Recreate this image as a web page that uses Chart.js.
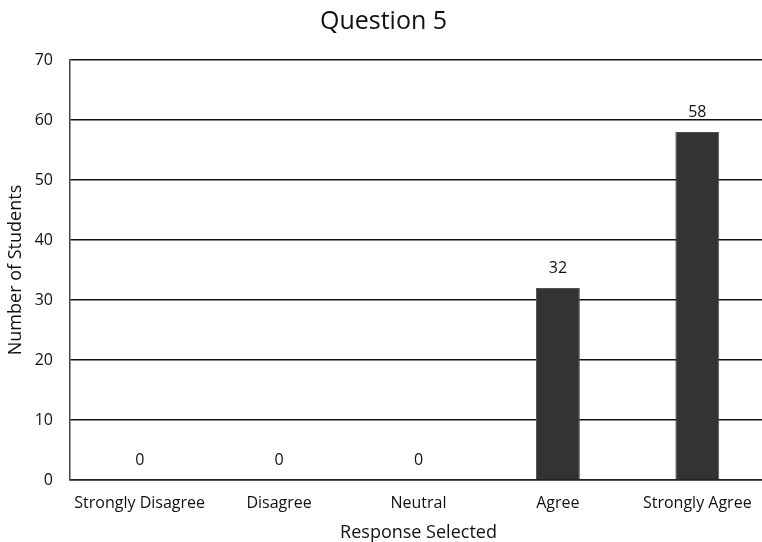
<!DOCTYPE html>
<html>
<head>
<meta charset="utf-8">
<script src="https://cdn.jsdelivr.net/npm/chart.js@4/dist/chart.umd.min.js"></script>
<style>
  html, body { margin: 0; padding: 0; background: #ffffff; overflow: hidden; }
  #wrap { position: relative; width: 767px; height: 542px; }
</style>
</head>
<body>
<div id="wrap"><canvas id="chart"></canvas></div>
<script>
// Survey responses for question 5
const categories = ['Strongly Disagree', 'Disagree', 'Neutral', 'Agree', 'Strongly Agree'];
const studentCounts = [0, 0, 0, 32, 58];
const yTicks = [0, 10, 20, 30, 40, 50, 60, 70];

const FONT = '"Open Sans", Lato, sans-serif';
const INK = '#111111';

// Writes each bar's count just above the bar
const valueLabels = {
  id: 'valueLabels',
  afterDatasetsDraw(chart) {
    const ctx = chart.ctx;
    const meta = chart.getDatasetMeta(0);
    ctx.save();
    ctx.font = '16px ' + FONT;
    ctx.fillStyle = INK;
    ctx.textAlign = 'center';
    ctx.textBaseline = 'middle';
    meta.data.forEach((bar, i) => {
      ctx.fillText(String(studentCounts[i]), bar.x, bar.y - 20);
    });
    ctx.restore();
  }
};

new Chart(document.getElementById('chart'), {
  type: 'bar',
  data: {
    labels: categories,
    datasets: [{
      data: studentCounts,
      backgroundColor: '#333333',
      borderColor: '#505050',
      borderWidth: 1,
      barPercentage: 0.63,
      categoryPercentage: 0.5
    }]
  },
  options: {
    responsive: true,
    maintainAspectRatio: false,
    animation: false,
    layout: { padding: { top: 0, right: 0, bottom: 0, left: 0 } },
    plugins: {
      legend: { display: false },
      tooltip: { enabled: false },
      title: {
        display: true,
        text: 'Question 5',
        color: INK,
        font: { family: FONT, size: 25, weight: 'normal' },
        padding: { top: 7, bottom: 23 }
      }
    },
    scales: {
      x: {
        grid: { display: false, drawTicks: false },
        border: { display: true, color: '#222222', width: 1.5 },
        ticks: { color: INK, font: { family: FONT, size: 16 }, padding: 14, maxRotation: 0 },
        title: {
          display: true,
          text: 'Response Selected',
          color: INK,
          font: { family: FONT, size: 18 },
          padding: { top: 5, bottom: -2 }
        },
        afterFit(scale) { scale.height = 62; }
      },
      y: {
        min: 0,
        max: 70,
        afterBuildTicks(scale) { scale.ticks = yTicks.map(v => ({ value: v })); },
        grid: { color: '#111111', lineWidth: 1.5, drawTicks: false },
        border: { display: true, color: '#444444', width: 1.5 },
        ticks: { color: INK, font: { family: FONT, size: 16 }, padding: 17 },
        title: {
          display: true,
          text: 'Number of Students',
          color: INK,
          font: { family: FONT, size: 18 },
          padding: { top: 5, bottom: 0 }
        },
        afterFit(scale) { scale.width = 70; }
      }
    }
  },
  plugins: [valueLabels]
});
</script>
</body>
</html>
